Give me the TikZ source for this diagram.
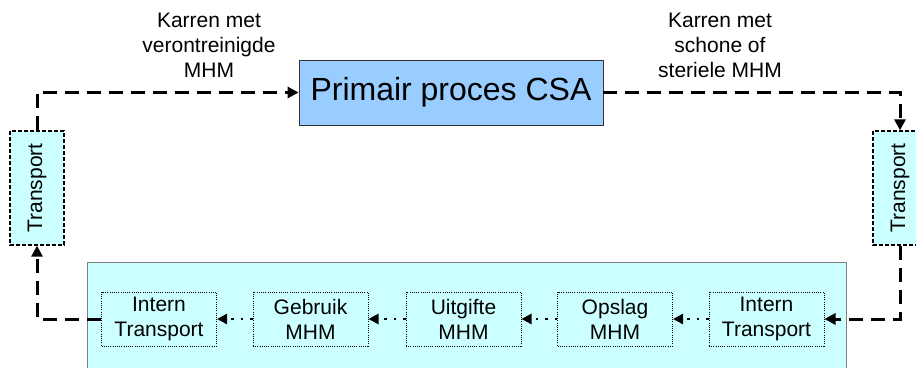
\documentclass[tikz,border=0pt]{standalone}
\usepackage{fontspec}
\setmainfont{Liberation Sans}
\usetikzlibrary{arrows.meta}
\definecolor{procblue}{RGB}{153,204,255}
\definecolor{paleCyan}{RGB}{204,255,255}
\begin{document}
\begin{tikzpicture}[x=1pt,y=-1pt,
  txt/.style={font=\fontsize{21}{25}\selectfont, align=center},
  procbox/.style={draw=black!80, line width=0.8pt, fill=procblue, minimum width=304pt, minimum height=65pt,
    font=\fontsize{32}{36}\selectfont, inner sep=0pt},
  transbox/.style={draw=black, line width=1.3pt, dash pattern=on 4pt off 2pt, fill=paleCyan, rotate=90,
    minimum width=114pt, minimum height=54pt, inner sep=0pt, font=\fontsize{21}{25}\selectfont},
  stagebox/.style={draw=black, line width=1pt, dash pattern=on 1pt off 1.2pt, minimum width=115pt,
    minimum height=54pt, inner sep=0pt, align=center, font=\fontsize{21}{25}\selectfont},
  flow/.style={line width=3pt, dash pattern=on 14pt off 8pt, -{Triangle[length=11pt,width=11pt]}},
  substep/.style={line width=2.5pt, dash pattern=on 2.5pt off 7pt, -{Triangle[length=10pt,width=10pt]}}]
\useasboundingbox (0,0) rectangle (916,367);
\clip (0,0) rectangle (916,367);

% department block
\draw[draw=gray, line width=1pt, fill=paleCyan] (87,262) rectangle (846,375);

% main nodes
\node[procbox] (csa) at (451,92.5) {Primair proces CSA};
\node[transbox] (tl) at (37,188) {Transport};
\node[transbox] (tr) at (900,188) {Transport};

% stages inside the department
\node[stagebox] (s1) at (159,319) {Intern\\Transport};
\node[stagebox] (s2) at (310.5,319) {Gebruik\\MHM};
\node[stagebox] (s3) at (463.5,319) {Uitgifte\\MHM};
\node[stagebox] (s4) at (615,319) {Opslag\\MHM};
\node[stagebox] (s5) at (766.5,319) {Intern\\Transport};

% labels
\node[txt] (lab1) at (209,45) {Karren met\\verontreinigde\\MHM};
\node[txt] (lab2) at (720,45) {Karren met\\schone of\\steriele MHM};

% loop connectors
\draw[flow] (tl.east) |- (csa.west);
\draw[flow] (csa.east) -| (tr.east);
\draw[flow] (tr.west) |- (s5.east);
\draw[flow] (s1.west) -| (tl.west);

% internal flow
\draw[substep] (s5.west) -- (s4.east);
\draw[substep] (s4.west) -- (s3.east);
\draw[substep] (s3.west) -- (s2.east);
\draw[substep] (s2.west) -- (s1.east);
\end{tikzpicture}
\end{document}
